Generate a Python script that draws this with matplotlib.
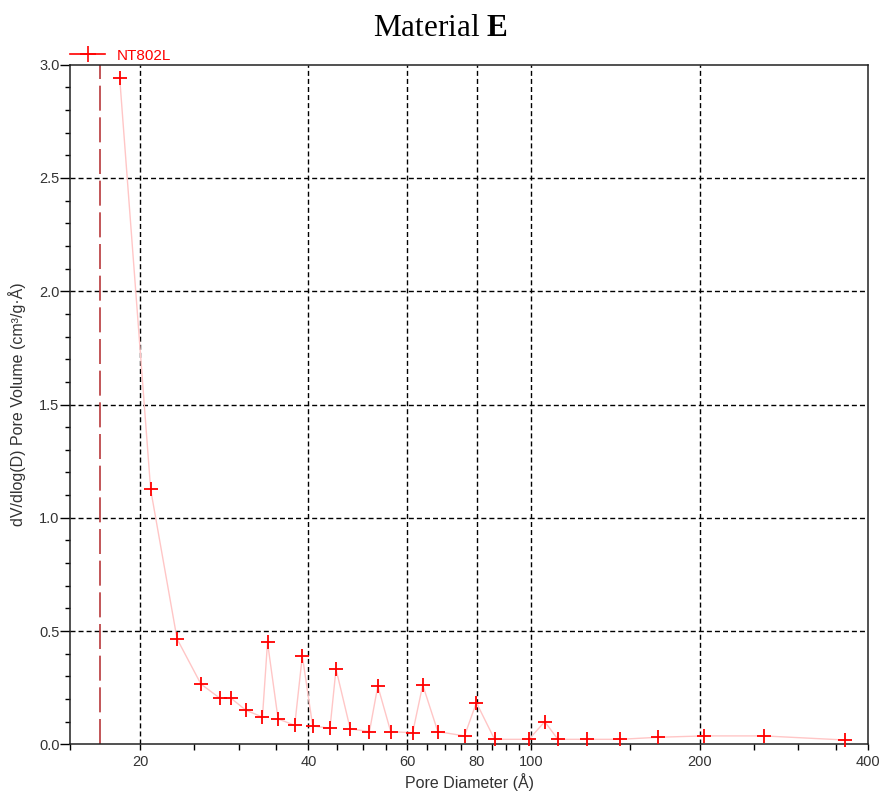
import matplotlib
matplotlib.use("Agg")
import matplotlib.pyplot as plt
from matplotlib.lines import Line2D
from matplotlib.ticker import FixedLocator, NullFormatter

plt.rcParams["font.family"] = ["Liberation Sans", "DejaVu Sans"]
plt.rcParams["mathtext.fontset"] = "custom"
plt.rcParams["mathtext.rm"] = "Liberation Serif"
plt.rcParams["mathtext.bf"] = "Liberation Serif:bold"

# pore diameter (A) and dV/dlog(D) pore volume (cm3/g.A)
diameter = [18.4, 20.9, 23.3, 25.7, 27.8, 29.1, 30.9, 33.1, 33.8, 35.3,
            37.8, 39.0, 40.7, 43.7, 44.8, 47.5, 51.4, 53.2, 56.1, 61.4,
            64.0, 68.1, 76.0, 79.8, 86.0, 99.1, 105.7, 111.6, 125.8, 144.3,
            168.4, 203.4, 260.4, 363.2]
volume = [2.942, 1.125, 0.465, 0.266, 0.203, 0.203, 0.151, 0.120, 0.450, 0.112,
          0.084, 0.390, 0.081, 0.071, 0.332, 0.068, 0.056, 0.257, 0.056, 0.051,
          0.262, 0.056, 0.037, 0.184, 0.022, 0.022, 0.100, 0.022, 0.022, 0.022,
          0.031, 0.037, 0.037, 0.019]

cutoff = 17.0  # red dashed vertical marker

x_major = [20, 40, 60, 80, 100, 200, 400]
x_minor = [15, 25, 30, 35, 45, 50, 55, 65, 70, 75, 85, 90, 95, 150, 250, 300, 350]
y_major = [0.0, 0.5, 1.0, 1.5, 2.0, 2.5, 3.0]
y_minor = [i / 10 for i in range(31)]

fig = plt.figure(figsize=(8.84, 7.94), dpi=100)
ax = fig.add_axes([0.0792, 0.0626, 0.9030, 0.8559])

ax.set_xscale("log")
ax.set_xlim(15, 400)
ax.set_ylim(0, 3.0)

# grid at major ticks only
grid_kw = dict(color="black", lw=1.0, dashes=(3.6, 2.2), zorder=1)
for gx in x_major[:-1]:
    ax.axvline(gx, **grid_kw)
for gy in y_major[1:-1]:
    ax.axhline(gy, **grid_kw)

ax.axvline(cutoff, color="#b8383b", lw=1.2, dashes=(15, 4), zorder=2)

ax.plot(diameter, volume, color="#ffc6c6", lw=1.0, zorder=3)
ax.plot(diameter, volume, ls="none", marker="+", ms=9.5, mew=1.3,
        color="red", zorder=4, clip_on=False)

ax.xaxis.set_major_locator(FixedLocator(x_major))
ax.xaxis.set_minor_locator(FixedLocator(x_minor))
ax.set_xticklabels([str(v) for v in x_major])
ax.xaxis.set_minor_formatter(NullFormatter())
ax.yaxis.set_major_locator(FixedLocator(y_major))
ax.yaxis.set_minor_locator(FixedLocator(y_minor))
ax.set_yticklabels([f"{v:.1f}" for v in y_major])

ax.tick_params(axis="x", which="both", length=4.5, width=1.0, direction="out",
               labelsize=10.5, labelcolor="#333333", pad=3.5)
ax.tick_params(axis="y", which="major", length=7, width=1.0, direction="out",
               labelsize=10.5, labelcolor="#333333", pad=0.5)
ax.tick_params(axis="y", which="minor", length=3.5, width=1.0, direction="out")
for s in ax.spines.values():
    s.set_linewidth(1.1)
    s.set_color("#222222")

ax.set_xlabel("Pore Diameter (Å)", fontsize=11.5, color="#333333")
ax.xaxis.set_label_coords(0.5, -0.043)
ax.set_ylabel("dV/dlog(D) Pore Volume (cm³/g·Å)", fontsize=11.5, color="#333333")
ax.yaxis.set_label_coords(-0.055, 0.5)

handle = Line2D([], [], color="red", lw=1.2, marker="+", ms=11, mew=1.2)
ax.legend([handle], ["NT802L"], loc="lower left", bbox_to_anchor=(0.0, 1.003),
          frameon=False, borderpad=0, borderaxespad=0, handlelength=2.3,
          handletextpad=0.75, prop={"size": 11}, labelcolor="red")

fig.text(0.4985, 0.9635, r"Material $\mathbf{E}$", ha="center", va="center",
         fontsize=22.5, family="Liberation Serif")

fig.savefig("out.png", dpi=100)
